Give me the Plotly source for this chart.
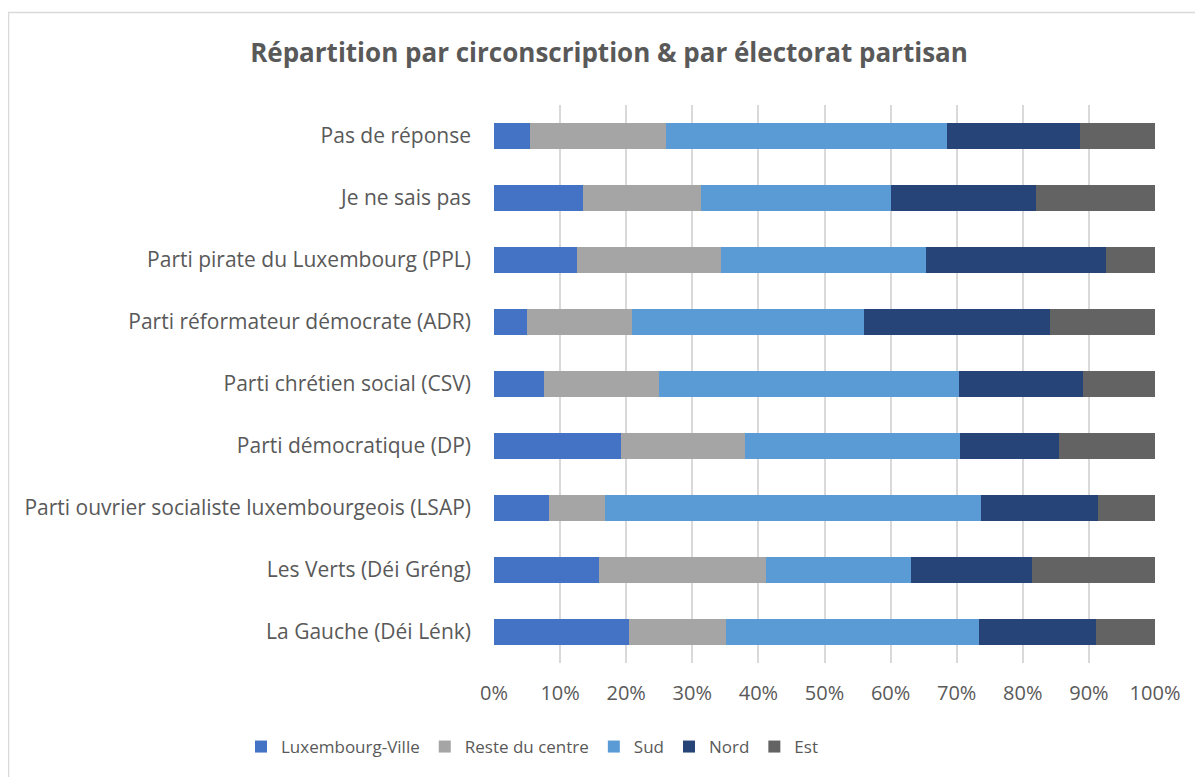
import plotly.graph_objects as go

categories = [
    "La Gauche (Déi Lénk)",
    "Les Verts (Déi Gréng)",
    "Parti ouvrier socialiste luxembourgeois (LSAP)",
    "Parti démocratique (DP)",
    "Parti chrétien social (CSV)",
    "Parti réformateur démocrate (ADR)",
    "Parti pirate du Luxembourg (PPL)",
    "Je ne sais pas",
    "Pas de réponse",
]

luxembourg_ville = [20.4, 15.9, 8.3, 19.2, 7.6, 5.0, 12.6, 13.5, 5.4]
reste_du_centre = [14.7, 25.2, 8.5, 18.8, 17.4, 15.9, 21.7, 17.8, 20.6]
sud = [38.3, 22.0, 56.9, 32.5, 45.3, 35.1, 31.1, 28.8, 42.5]
nord = [17.7, 18.3, 17.7, 15.0, 18.8, 28.1, 27.2, 21.9, 20.2]
est = [8.9, 18.6, 8.6, 14.5, 10.9, 15.9, 7.4, 18.0, 11.3]

series_names = ["Luxembourg-Ville", "Reste du centre", "Sud", "Nord", "Est"]
series_values = [luxembourg_ville, reste_du_centre, sud, nord, est]
series_colors = ["#4472C4", "#A5A5A5", "#5B9BD5", "#264478", "#636363"]

tick_vals = [0, 10, 20, 30, 40, 50, 60, 70, 80, 90, 100]
tick_text = [f"{v}%" for v in tick_vals]

# page body has an 8px default margin; figure is sized to fit
W, H = 1195, 769
L, T = 486, 97
PW, PH = 661, 558
R = W - L - PW
B = H - T - PH

fig = go.Figure()
for name, vals, col in zip(series_names, series_values, series_colors):
    fig.add_trace(go.Bar(
        y=categories, x=vals, name=name, orientation="h",
        marker=dict(color=col, line=dict(width=0)),
    ))

font_family = "Open Sans, Liberation Sans, sans-serif"
text_color = "#595959"

fig.update_layout(
    width=W, height=H,
    barmode="stack",
    bargap=0.58,
    paper_bgcolor="white",
    plot_bgcolor="white",
    margin=dict(l=L, r=R, t=T, b=B, autoexpand=False),
    font=dict(family=font_family, color=text_color, size=16),
    title=dict(
        text="<b>Répartition par circonscription & par électorat partisan</b>",
        x=601 / W, xanchor="center", xref="container",
        y=1 - 45 / H, yanchor="middle", yref="container",
        font=dict(size=26, color=text_color, family=font_family),
    ),
    xaxis=dict(
        range=[0, 100], tickvals=tick_vals, ticktext=tick_text,
        showgrid=True, gridcolor="#D9D9D9", gridwidth=1.5,
        zeroline=False, showline=False,
        ticks="", ticklabelstandoff=16,
        tickfont=dict(size=20, color=text_color),
        fixedrange=True,
    ),
    yaxis=dict(
        categoryorder="array", categoryarray=categories,
        showgrid=False, zeroline=False, showline=False,
        ticks="", ticklabelstandoff=22,
        tickfont=dict(size=21, color=text_color),
        fixedrange=True,
    ),
    legend=dict(
        orientation="h",
        xref="container", yref="container",
        x=524 / W, xanchor="center",
        y=1 - 739 / H, yanchor="middle",
        font=dict(size=17, color=text_color),
        itemwidth=30,
        traceorder="normal",
    ),
    showlegend=True,
)

# Chart border (light gray frame)
fig.add_shape(
    type="rect", xref="paper", yref="paper",
    x0=(0.5 - L) / PW, x1=(W + 5 - L) / PW,
    y0=-(H + 5 - T - PH) / PH, y1=1 + (T - 4.5) / PH,
    line=dict(color="#D9D9D9", width=1.5),
    fillcolor="rgba(0,0,0,0)", layer="below",
)

fig.write_html("out.html")
